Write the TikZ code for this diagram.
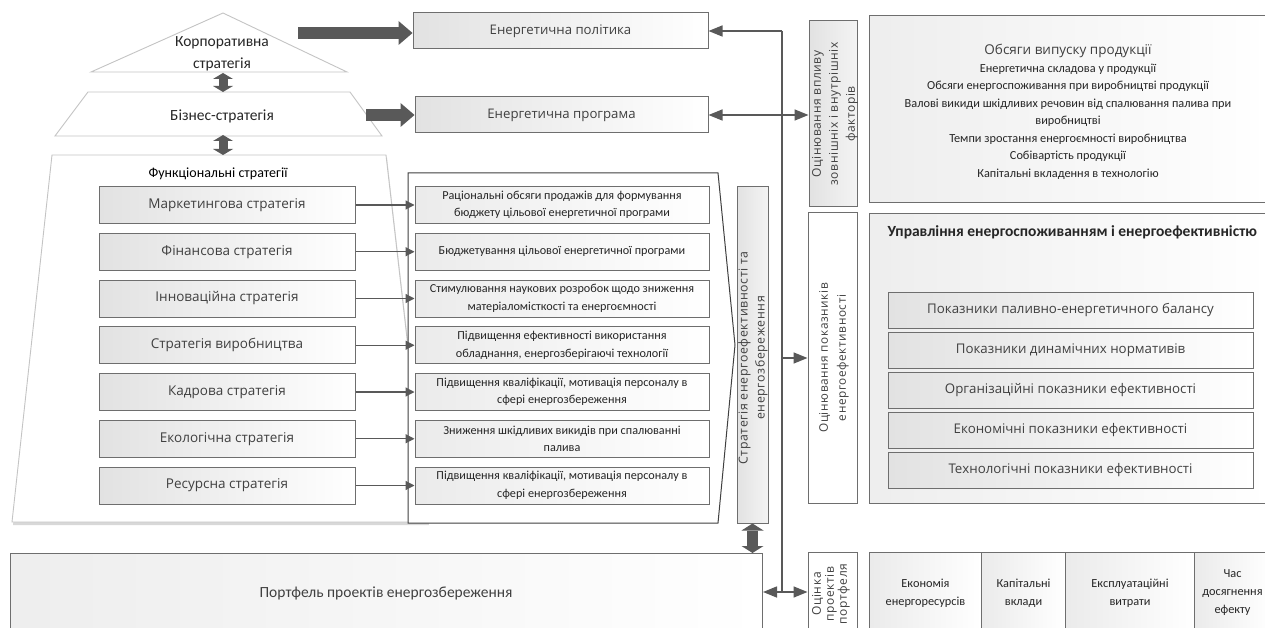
\documentclass[tikz,border=0pt]{standalone}
\usepackage{fontspec}
\setmainfont{Open Sans}
\newfontfamily\cfont{Carlito}
\newfontfamily\sfont[LetterSpace=5]{Open Sans}
\usetikzlibrary{arrows.meta,shadows}

\definecolor{edge}{HTML}{6E6E6E}
\definecolor{ink}{HTML}{404040}
\definecolor{dark}{HTML}{595959}
\definecolor{pale}{HTML}{C4C4C4}
\definecolor{fillg}{HTML}{E2E2E2}
\definecolor{deep}{HTML}{262626}

\begin{document}
\begin{tikzpicture}[x=1pt,y=-1pt,
  tier/.style={draw=pale, line width=0.9pt, fill=white},
  tiertext/.style={font=\cfont\fontsize{15.5}{22}\selectfont, text=deep, align=center},
  box/.style={draw=edge, line width=1pt, left color=fillg, right color=white, align=center, inner sep=1pt},
  lbox/.style={box, minimum width=256pt, minimum height=37pt, text=ink, font=\fontsize{13.5}{15}\selectfont},
  mbox/.style={box, left color=fillg!70, minimum width=294pt, minimum height=37pt, text=deep, font=\cfont\fontsize{12.2}{17.5}\selectfont},
  ebox/.style={box, minimum height=36pt, text=ink, font=\fontsize{13.2}{15}\selectfont},
  vbox/.style={box, left color=fillg, right color=fillg!40},
  vtext/.style={rotate=90, align=center, text=ink, font=\sfont\fontsize{12}{17}\selectfont},
  rbox/.style={box, minimum width=365pt, minimum height=36pt, text=ink, font=\fontsize{13.3}{15}\selectfont},
  bigbox/.style={box, left color=fillg!60, right color=white, anchor=north west},
  cell/.style={box, left color=fillg!70, anchor=north west, minimum height=81pt, text=deep, font=\cfont\fontsize{12.3}{18}\selectfont},
  block/.style={draw=dark, line width=12pt, -{Triangle[length=14pt,width=24pt,line width=0pt]}},
  dblock/.style={draw=dark, line width=9pt, {Triangle[length=6pt,width=20pt,line width=0pt]}-{Triangle[length=6pt,width=20pt,line width=0pt]}},
  link/.style={draw=dark, line width=1.2pt, -{Triangle[length=9pt,width=9pt]}},
  bus/.style={draw=dark, line width=1.5pt},
  busarrow/.style={bus, -{Triangle[length=14pt,width=11pt]}},
]
\clip (0,0) rectangle (1265,628);
\fill[white] (0,0) rectangle (1265,628);

% strategy pyramid
\draw[tier] (91,72) -- (223,13) -- (347,72) -- cycle;
\draw[tier] (88,92) -- (350,92) -- (382,136) -- (55,136) -- cycle;
\draw[tier, drop shadow={shadow xshift=1pt, shadow yshift=-3pt, opacity=0.3}] (52,155) -- (386,155) -- (428,522) -- (12,522) -- cycle;

\node[tiertext] (corp) at (222,54) {Корпоративна\\стратегія};
\node[tiertext] (biz) at (222,116) {Бізнес-стратегія};
\node[font=\cfont\fontsize{14}{16}\selectfont, text=black] (func) at (218,174) {Функціональні стратегії};

\coordinate (corpbase) at (223,73);
\coordinate (biztop) at (223,92);
\coordinate (bizbase) at (223,135);
\coordinate (functop) at (223,155);
\coordinate (corpout) at (298,33);
\coordinate (bizout) at (366,115);

% energy policy and programme
\node[ebox, minimum width=295pt] (policy) at (560.5,31) {Енергетична політика};
\node[ebox, minimum width=293pt] (program) at (561.5,115) {Енергетична програма};

\draw[dblock] (corpbase) -- (biztop);
\draw[dblock] (bizbase) -- (functop);
\draw[block] (corpout) -- (corpout -| policy.west);
\draw[block] (bizout) -- (bizout -| program.west);

% measures frame
\draw[draw=black!75, line width=1pt, fill=white] (408,173) -- (718,173) -- (735,345) -- (718,523) -- (408,523) -- cycle;

% functional strategies
\node[lbox] (l1) at (227,205) {Маркетингова стратегія};
\node[lbox] (l2) at (227,251.75) {Фінансова стратегія};
\node[lbox] (l3) at (227,298.5) {Інноваційна стратегія};
\node[lbox] (l4) at (227,345.25) {Стратегія виробництва};
\node[lbox] (l5) at (227,392) {Кадрова стратегія};
\node[lbox] (l6) at (227,438.75) {Екологічна стратегія};
\node[lbox] (l7) at (227,485.5) {Ресурсна стратегія};

% measures
\node[mbox] (m1) at (562,205) {Раціональні обсяги продажів для формування\\бюджету цільової енергетичної програми};
\node[mbox] (m2) at (562,251.75) {Бюджетування цільової енергетичної програми};
\node[mbox] (m3) at (562,298.5) {Стимулювання наукових розробок щодо зниження\\матеріаломісткості та енергоємності};
\node[mbox] (m4) at (562,345.25) {Підвищення ефективності використання\\обладнання, енергозберігаючі технології};
\node[mbox] (m5) at (562,392) {Підвищення кваліфікації, мотивація персоналу в\\сфері енергозбереження};
\node[mbox] (m6) at (562,438.75) {Зниження шкідливих викидів при спалюванні\\палива};
\node[mbox] (m7) at (562,485.5) {Підвищення кваліфікації, мотивація персоналу в\\сфері енергозбереження};

\foreach \i in {1,...,7} {\draw[link] (l\i.east) -- (m\i.west);}

% energy efficiency strategy
\node[vbox, minimum width=31pt, minimum height=336pt] (strat) at (752.5,355) {};
\node[vtext, font=\sfont\fontsize{12.3}{17}\selectfont] (strattxt) at (753,358) {Стратегія енергоефективності та\\енергозбереження};

% project portfolio
\node[bigbox, minimum width=752pt, minimum height=80pt] (portfolio) at (10,553) {};
\node[font=\cfont\fontsize{15.5}{17}\selectfont, text=ink] (portfoliotxt) at (386,593) {Портфель проектів енергозбереження};
\draw[dblock, line width=11pt, {Triangle[length=7pt,width=22pt,line width=0pt]}-{Triangle[length=7pt,width=22pt,line width=0pt]}] (strat.south) -- (strat.south |- portfolio.north);

% assessment column
\node[vbox, minimum width=48pt, minimum height=186pt] (va) at (833,114) {};
\node[vtext] (vatxt) at (835,114) {Оцінювання впливу\\зовнішніх і внутрішніх\\факторів};
\node[vbox, left color=white, right color=white, minimum width=49pt, minimum height=290pt] (vb) at (832.5,358) {};
\node[vtext, font=\sfont\fontsize{11.8}{18}\selectfont] (vbtxt) at (834,358) {Оцінювання показників\\енергоефективності};
\node[vbox, left color=white, right color=white, minimum width=49pt, minimum height=80pt] (vc) at (832.5,592.5) {};
\node[vtext, font=\sfont\fontsize{12}{13}\selectfont] (vctxt) at (831,594) {Оцінка\\проектів\\портфеля};

% production volumes
\node[bigbox, minimum width=400pt, minimum height=187pt] (prod) at (869,15) {};
\node[align=center, text=deep, font=\cfont\fontsize{12.3}{17.5}\selectfont] (prodtxt) at (1068,112) {{\rmfamily\fontsize{13.5}{17.5}\selectfont\color{ink}Обсяги випуску продукції}\\Енергетична складова у продукції\\Обсяги енергоспоживання при виробництві продукції\\Валові викиди шкідливих речовин від спалювання палива при\\виробництві\\Темпи зростання енергоємності виробництва\\Собівартість продукції\\Капітальні вкладення в технологію};

% efficiency management
\node[bigbox, minimum width=400pt, minimum height=290pt] (mgmt) at (869,213) {};
\node[anchor=west, text=deep, font=\cfont\bfseries\fontsize{15.5}{17}\selectfont] (mgmttxt) at (884,232) {Управління енергоспоживанням і енергоефективністю};
\node[rbox] (r1) at (1070.5,310) {Показники паливно-енергетичного балансу};
\node[rbox] (r2) at (1070.5,350) {Показники динамічних нормативів};
\node[rbox] (r3) at (1070.5,390) {Організаційні показники ефективності};
\node[rbox] (r4) at (1070.5,430) {Економічні показники ефективності};
\node[rbox] (r5) at (1070.5,470) {Технологічні показники ефективності};

% project assessment criteria
\node[cell, minimum width=112pt] (c1) at (869,552) {Економія\\енергоресурсів};
\node[cell, minimum width=84pt] (c2) at (981,552) {Капітальні\\вклади};
\node[cell, minimum width=129pt] (c3) at (1065,552) {Експлуатаційні\\витрати};
\node[cell, minimum width=76pt] (c4) at (1194,552) {Час\\досягнення\\ефекту};

% feedback bus
\coordinate (bustop) at (782,31);
\coordinate (busbot) at (782,592);
\draw[bus] (bustop) -- (busbot);
\draw[busarrow] (bustop) -- (bustop -| policy.east);
\draw[bus, {Triangle[length=14pt,width=11pt]}-{Triangle[length=14pt,width=11pt]}] (program.east) -- (program.east -| va.west);
\draw[busarrow] (bustop |- vb.west) -- (vb.west);
\draw[bus, {Triangle[length=14pt,width=11pt]}-{Triangle[length=14pt,width=11pt]}] (busbot -| portfolio.east) -- (busbot -| vc.west);
\end{tikzpicture}
\end{document}
